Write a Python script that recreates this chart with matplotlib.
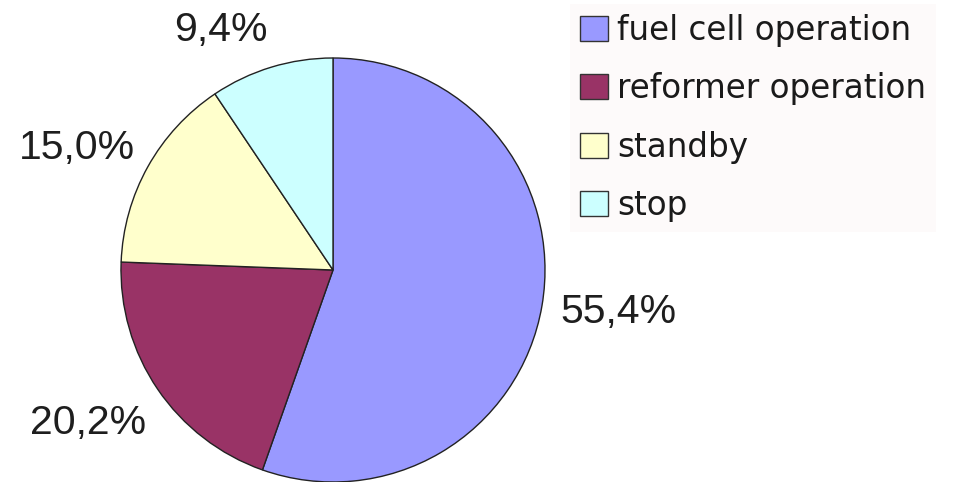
import matplotlib
matplotlib.use("Agg")
import numpy as np
import matplotlib.pyplot as plt

# ------------ data -------------#
categories = ["fuel cell operation", "reformer operation", "standby", "stop"]
shares = [55.4, 20.2, 15.0, 9.4]
colors = ["#9999FF", "#993366", "#FFFFCC", "#CCFFFF"]

# label placement (radius factor, angle nudge in degrees)
label_dist = [1.36, 1.36, 1.34, 1.25]
label_nudge = [1.3, -2.2, 3.7, 8.0]


def pct_label(p):
    # decimal comma like the original
    return f"{p:.1f}%".replace(".", ",")


fig = plt.figure(figsize=(9.61, 4.82), dpi=100)
# axes covering the whole figure, data units == pixels
ax = fig.add_axes([0, 0, 1, 1])

cx, cy, r = 333, 212, 212
wedges, texts = ax.pie(
    shares,
    colors=colors,
    startangle=90,
    counterclock=False,
    center=(cx, cy),
    radius=r,
    wedgeprops=dict(edgecolor="#222222", linewidth=1.0),
    frame=True,
)
ax.set_xlim(0, 961)
ax.set_ylim(0, 482)
ax.set_axis_off()

total = sum(shares)
for w, val, d, nudge in zip(wedges, shares, label_dist, label_nudge):
    ang = np.deg2rad((w.theta1 + w.theta2) / 2 + nudge)
    ax.text(
        cx + d * r * np.cos(ang),
        cy + d * r * np.sin(ang),
        pct_label(100 * val / total),
        ha="center",
        va="center",
        fontsize=29.5,
        family="Liberation Sans",
        color="#1e1e1e",
    )

leg = fig.legend(
    wedges,
    categories,
    loc="upper left",
    bbox_to_anchor=(570 / 961, 1 - 4 / 482),
    prop=dict(family="DejaVu Sans", size=23.5),
    handlelength=0.85,
    handleheight=0.8,
    handletextpad=0.3,
    labelspacing=0.78,
    borderpad=0.3,
    borderaxespad=0,
    frameon=True,
    fancybox=False,
)
leg.get_frame().set_facecolor("#FDF9F9")
leg.get_frame().set_edgecolor("none")
for t in leg.get_texts():
    t.set_color("#1a1a1a")
for h in leg.legend_handles:
    h.set_edgecolor("#333333")

fig.savefig("out.png", dpi=100)
